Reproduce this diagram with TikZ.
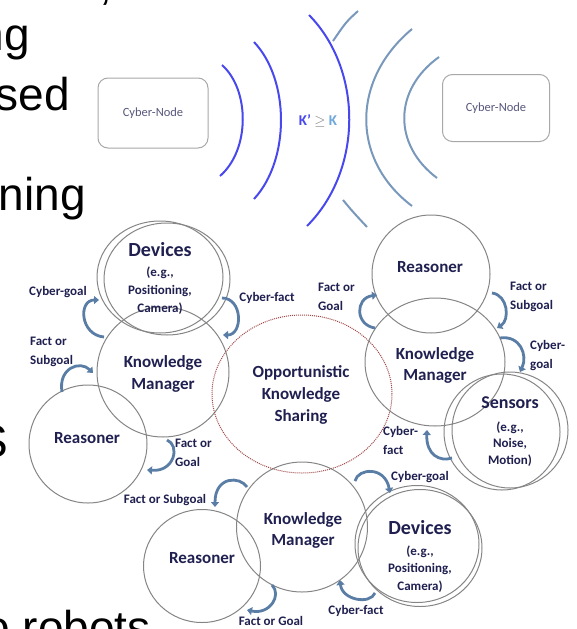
\documentclass[tikz,border=0pt]{standalone}
\usepackage{fontspec}
\setmainfont{Carlito}
\newfontfamily\slidefont{Liberation Sans}
\usetikzlibrary{shapes.geometric,arrows.meta}
\definecolor{ink}{HTML}{1F1F50}
\definecolor{hookc}{HTML}{5A7DA6}
\definecolor{ringc}{HTML}{858585}
\definecolor{dotred}{HTML}{A04848}
\definecolor{waveblue}{HTML}{4848EE}
\definecolor{wavesteel}{HTML}{7898BC}
\definecolor{boxgray}{HTML}{A8A8A8}
\definecolor{kblue}{HTML}{6FA8D8}
\begin{document}
\begin{tikzpicture}[x=1pt,y=-1pt,
  ringnode/.style={draw=ringc,line width=1pt,ellipse,inner sep=0pt,outer sep=0pt},
  oks/.style={draw=dotred,line width=1pt,dash pattern=on 1pt off 1pt,ellipse,inner sep=0pt,outer sep=0pt},
  lab/.style={text=ink,font=\bfseries\fontsize{17}{22}\selectfont,align=center,inner sep=0pt},
  title/.style={text=ink,font=\bfseries\fontsize{20}{22}\selectfont,inner sep=0pt},
  sublab/.style={text=ink,font=\bfseries\fontsize{13}{18}\selectfont,align=center,inner sep=0pt},
  elab/.style={text=ink,font=\bfseries\fontsize{13}{19}\selectfont,inner sep=0pt},
  hookarrow/.style={draw=hookc,line width=2.8pt,-{Triangle[length=5pt,width=8pt]}},
  cnode/.style={draw=boxgray,line width=1pt,rounded corners=10pt,minimum width=110pt,minimum height=70pt,inner sep=0pt,text=ink!75,font=\fontsize{12.5}{14}\selectfont},
  slide/.style={font=\slidefont\fontsize{46}{46}\selectfont,text=black,inner sep=0pt,anchor=base east},
  bluewave/.style={draw=waveblue,line width=2pt},
  steelwave/.style={draw=wavesteel,line width=2pt}
]
\useasboundingbox (0,0) rectangle (576,629);
\clip (0,0) rectangle (576,629);

% slide text fragments
\node[slide] (s0) at (112,-1) {,};
\node[slide] (s1) at (30,50) {ng};
\node[slide] (s2) at (70,110) {sed};
\node[slide] (s3) at (86,210) {ning};
\node[slide] (s4) at (8,457) {S};
\node[slide] (s5) at (151,643) {o robots};

% top: cyber nodes and waves
\node[cnode] (cn1) at (153,113) {Cyber-Node};
\node[cnode,minimum width=107pt,minimum height=67pt] (cn2) at (496,108) {Cyber-Node};
\draw[bluewave] (222,65) .. controls (250,90) and (250,150) .. (220,176);
\draw[bluewave] (254,42) .. controls (290,80) and (290,160) .. (254,199);
\draw[bluewave] (309,15) .. controls (363,70) and (363,170) .. (307,226);
\draw[steelwave] (358,11) .. controls (346,22) .. (333,41);
\draw[steelwave] (343,200) .. controls (353,212) .. (367,227);
\draw[steelwave] (412,29) .. controls (351,80) and (351,160) .. (412,206);
\draw[steelwave] (439,57) .. controls (393,90) and (393,145) .. (437,178);
\node[font=\bfseries\fontsize{15}{15}\selectfont,inner sep=0pt] (kk) at (318,121)
  {\textcolor{waveblue}{K’} \textcolor{gray}{$\geq$} \textcolor{kblue}{K}};

% circles
\node[ringnode,minimum width=126pt,minimum height=112pt] (devA) at (160,277) {};
\node[ringnode,minimum width=126pt,minimum height=112pt] (devA2) at (167,279) {};
\node[ringnode,minimum width=132pt,minimum height=130pt] (kmA) at (163,372) {};
\node[ringnode,minimum width=118pt,minimum height=118pt] (reA) at (88,444) {};
\node[oks,minimum width=180pt,minimum height=158pt] (share) at (302,394) {};
\node[ringnode,minimum width=118pt,minimum height=118pt] (reB) at (431,274) {};
\node[ringnode,minimum width=140pt,minimum height=128pt] (kmB) at (435,362) {};
\node[ringnode,minimum width=116pt,minimum height=116pt] (senB2) at (502,432) {};
\node[ringnode,minimum width=116pt,minimum height=116pt] (senB) at (510,430) {};
\node[ringnode,minimum width=131pt,minimum height=130pt] (kmC) at (302,527) {};
\node[ringnode,minimum width=124pt,minimum height=117pt] (devC2) at (417,544) {};
\node[ringnode,minimum width=124pt,minimum height=117pt] (devC) at (420,548) {};
\node[ringnode,minimum width=117pt,minimum height=113pt] (reC) at (202,566) {};

% circle labels
\node[title] (tDevA) at (160,250) {Devices};
\node[sublab] (tDevAs) at (160,291) {(e.g.,\\Positioning,\\Camera)};
\node[lab] (tKmA) at (163,374) {Knowledge\\Manager};
\node[lab] (tReA) at (87,438) {Reasoner};
\node[lab] (tShare) at (301,395) {Opportunistic\\Knowledge\\Sharing};
\node[lab] (tReB) at (430,267) {Reasoner};
\node[lab,font=\bfseries\fontsize{17}{21}\selectfont] (tKmB) at (435,365) {Knowledge\\Manager};
\node[title,font=\bfseries\fontsize{18}{20}\selectfont] (tSen) at (510,403) {Sensors};
\node[sublab,font=\bfseries\fontsize{13}{16.5}\selectfont] (tSens) at (510,444) {(e.g.,\\Noise,\\Motion)};
\node[lab,font=\bfseries\fontsize{17}{21}\selectfont] (tKmC) at (303,530) {Knowledge\\Manager};
\node[title] (tDevC) at (420,528) {Devices};
\node[sublab,font=\bfseries\fontsize{13}{17.5}\selectfont] (tDevCs) at (420,569) {(e.g.,\\Positioning,\\Camera)};
\node[lab] (tReC) at (202,558) {Reasoner};

% edge labels
\node[elab] (e1) at (58,292) {Cyber-goal};
\node[elab] (e2) at (267,298) {Cyber-fact};
\node[elab,align=left,anchor=west] (e3) at (30,352) {Fact or\\Subgoal};
\node[elab,align=left,anchor=west] (e4) at (318,297) {Fact or\\Goal};
\node[elab,align=left,anchor=west] (e5) at (510,297) {Fact or\\Subgoal};
\node[elab,align=left,anchor=west] (e6) at (530,356) {Cyber-\\goal};
\node[elab,align=left,anchor=west] (e7) at (383,440) {Cyber-\\fact};
\node[elab,align=left,anchor=west] (e8) at (175,453) {Fact or\\Goal};
\node[elab] (e9) at (165,500) {Fact or Subgoal};
\node[elab] (e10) at (420,477) {Cyber-goal};
\node[elab] (e11) at (356,611) {Cyber-fact};
\node[elab] (e12) at (271,621) {Fact or Goal};

% hook end points
\coordinate (a1) at (104,337); \coordinate (a2) at (99,300);
\coordinate (b1) at (222,298); \coordinate (b2) at (223,335);
\coordinate (c1) at (62,392);  \coordinate (c2) at (93,373);
\coordinate (d1) at (167,440); \coordinate (d2) at (147,470);
\coordinate (f1) at (247,487); \coordinate (f2) at (215,507);
\coordinate (g1) at (272,585); \coordinate (g2) at (247,610);
\coordinate (h1) at (375,593); \coordinate (h2) at (340,580);
\coordinate (i1) at (355,481); \coordinate (i2) at (390,493);
\coordinate (j1) at (452,458); \coordinate (j2) at (427,430);
\coordinate (k1) at (500,338); \coordinate (k2) at (520,372);
\coordinate (l1) at (492,293); \coordinate (l2) at (497,328);
\coordinate (m1) at (375,328); \coordinate (m2) at (377,295);

% hooks
\draw[hookarrow] (a1) .. controls (80,335) and (78,300) .. (a2);
\draw[hookarrow] (b1) .. controls (243,298) and (243,335) .. (b2);
\draw[hookarrow] (c1) .. controls (58,368) and (80,360) .. (c2);
\draw[hookarrow] (d1) .. controls (180,445) and (175,472) .. (d2);
\draw[hookarrow] (f1) .. controls (240,476) and (215,476) .. (f2);
\draw[hookarrow] (g1) .. controls (282,595) and (270,615) .. (g2);
\draw[hookarrow] (h1) .. controls (370,605) and (342,600) .. (h2);
\draw[hookarrow] (i1) .. controls (358,468) and (385,466) .. (i2);
\draw[hookarrow] (j1) .. controls (440,462) and (426,455) .. (j2);
\draw[hookarrow] (k1) .. controls (520,335) and (528,355) .. (k2);
\draw[hookarrow] (l1) .. controls (508,295) and (510,320) .. (l2);
\draw[hookarrow] (m1) .. controls (355,325) and (355,298) .. (m2);
\end{tikzpicture}
\end{document}
